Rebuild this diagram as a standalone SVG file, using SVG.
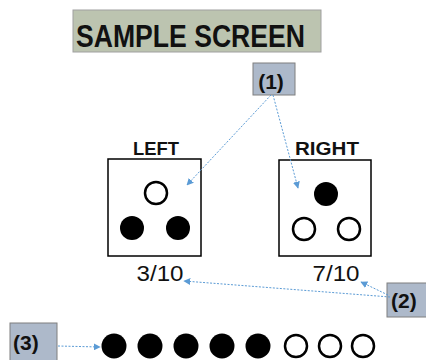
<svg xmlns="http://www.w3.org/2000/svg" width="426" height="360" viewBox="0 0 426 360">
<defs>
<style>
.lbl{fill:#adb9ca;stroke:#7f7f7f;stroke-width:1}
.bt{font-family:"Liberation Sans",Arial,sans-serif;font-weight:bold;fill:#111}
.rt{font-family:"Liberation Sans",Arial,sans-serif;fill:#111}
.scr{fill:#fff;stroke:#000;stroke-width:1.5}
.f{fill:#000}
.o{fill:#fff;stroke:#000;stroke-width:2.5}
.c{stroke:#5b9bd5;stroke-width:1;stroke-dasharray:2 1.5;fill:none;marker-end:url(#ah)}
</style>
<marker id="ah" viewBox="0 0 10 10" refX="9" refY="5" markerWidth="7" markerHeight="7" orient="auto" markerUnits="userSpaceOnUse">
<path d="M0,0 L10,5 L0,10 z" fill="#5b9bd5"/>
</marker>
</defs>
<rect width="426" height="360" fill="#fff"/>
<g id="title">
<rect x="73" y="10" width="248" height="42" fill="#bcc4b0" stroke="#a0a0a0" stroke-width="1"/>
<text class="bt" x="76" y="47" font-size="31" textLength="229" lengthAdjust="spacingAndGlyphs">SAMPLE SCREEN</text>
</g>
<g id="label1">
<rect class="lbl" x="253" y="63" width="42" height="32"/>
<text class="bt" x="271" y="89" font-size="21" text-anchor="middle">(1)</text>
</g>
<g id="left">
<text class="bt" x="156" y="155" font-size="18" text-anchor="middle" textLength="46" lengthAdjust="spacingAndGlyphs">LEFT</text>
<rect class="scr" x="108" y="159" width="93" height="97"/>
<circle class="o" cx="156" cy="193" r="11"/>
<circle class="f" cx="132" cy="228" r="12"/>
<circle class="f" cx="178" cy="228" r="12"/>
<text class="rt" x="160" y="281" font-size="22" text-anchor="middle" textLength="47" lengthAdjust="spacingAndGlyphs">3/10</text>
</g>
<g id="right">
<text class="bt" x="327" y="155" font-size="18" text-anchor="middle" textLength="64" lengthAdjust="spacingAndGlyphs">RIGHT</text>
<rect class="scr" x="279" y="160" width="92" height="96"/>
<circle class="f" cx="326" cy="194" r="12"/>
<circle class="o" cx="304" cy="229" r="11"/>
<circle class="o" cx="349" cy="229" r="11"/>
<text class="rt" x="336" y="281" font-size="22" text-anchor="middle" textLength="47" lengthAdjust="spacingAndGlyphs">7/10</text>
</g>
<g id="label2">
<rect class="lbl" x="387" y="283" width="40" height="34"/>
<text class="bt" x="391" y="308" font-size="21">(2)</text>
</g>
<g id="label3">
<rect class="lbl" x="10" y="323" width="47" height="40"/>
<text class="bt" x="13" y="350" font-size="21">(3)</text>
</g>
<g id="dots">
<circle class="f" cx="114" cy="346" r="12.5"/>
<circle class="f" cx="150" cy="346" r="12.5"/>
<circle class="f" cx="186" cy="346" r="12.5"/>
<circle class="f" cx="222" cy="346" r="12.5"/>
<circle class="f" cx="258" cy="346" r="12.5"/>
<circle class="o" cx="296" cy="346" r="11"/>
<circle class="o" cx="330" cy="346" r="11"/>
<circle class="o" cx="363" cy="346" r="11"/>
</g>
<g id="connectors">
<line class="c" x1="271" y1="95" x2="187" y2="185"/>
<line class="c" x1="273" y1="95" x2="298" y2="188"/>
<line class="c" x1="390" y1="297" x2="184" y2="281"/>
<line class="c" x1="388" y1="295" x2="361" y2="282"/>
<line class="c" x1="58" y1="346" x2="100" y2="347"/>
</g>
</svg>
